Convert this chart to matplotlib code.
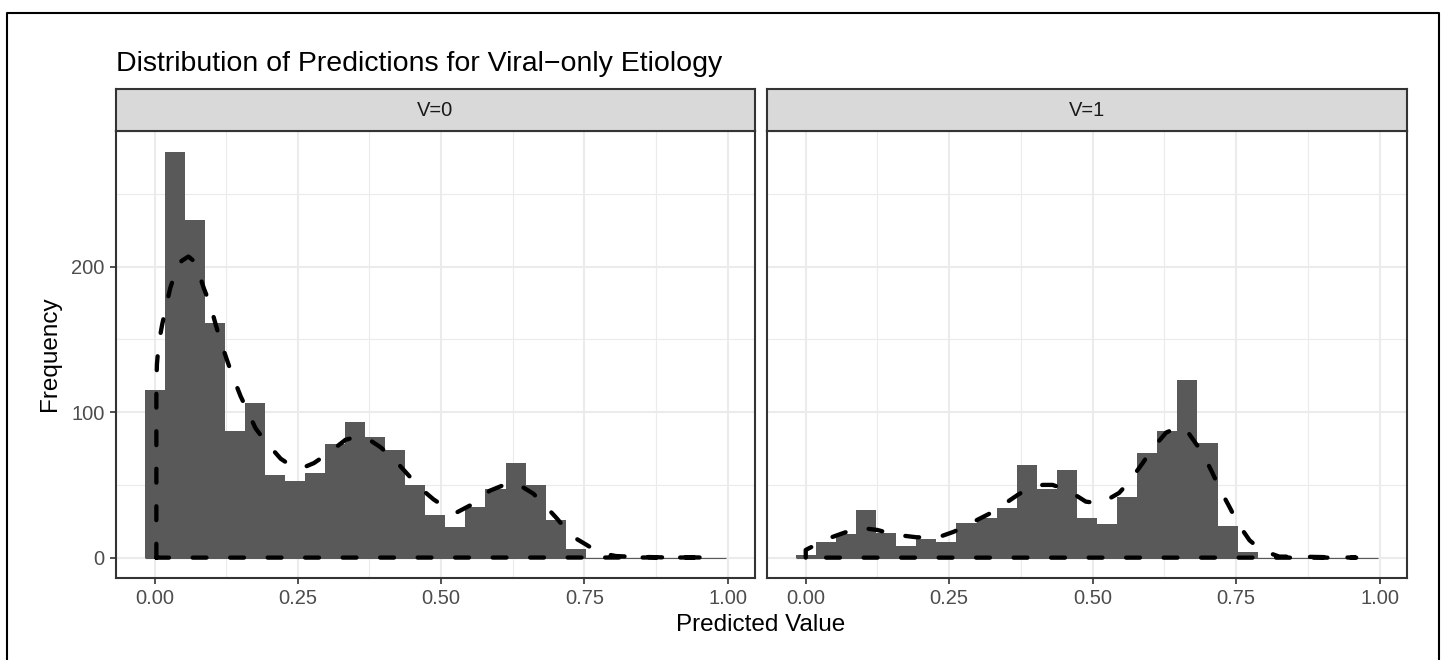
import numpy as np
import matplotlib
matplotlib.use("Agg")
import matplotlib.pyplot as plt
from matplotlib.lines import Line2D

plt.rcParams['font.family'] = ['Liberation Sans', 'DejaVu Sans']
plt.rcParams['lines.scale_dashes'] = False

# histogram: 29 bins of width 0.035, centred on 0.000, 0.035, ...
bin_width = 0.035
counts_v0 = [115, 279, 232, 161, 87, 106, 57, 53, 58, 78, 93, 83, 74, 50, 29,
             21, 35, 47, 65, 50, 26, 6, 0, 0, 0, 0, 0, 0, 0]
counts_v1 = [2, 11, 16, 33, 17, 8, 13, 11, 24, 27, 34, 64, 47, 60, 27,
             23, 42, 72, 87, 122, 79, 22, 4, 0, 0, 0, 0, 0, 0]

# density curves (scaled to counts)
dens_v0_x = [0.003, 0.004, 0.007, 0.013, 0.019, 0.027, 0.036, 0.047, 0.059, 0.068,
             0.075, 0.086, 0.097, 0.106, 0.115, 0.127, 0.137, 0.150, 0.162, 0.176,
             0.193, 0.220, 0.243, 0.260, 0.278, 0.304, 0.333, 0.352, 0.371, 0.394,
             0.417, 0.440, 0.463, 0.487, 0.510, 0.527, 0.556, 0.585, 0.610, 0.632,
             0.661, 0.681, 0.702, 0.719, 0.736, 0.753, 0.776, 0.805, 0.828, 0.886, 0.967]
dens_v0_y = [119, 133, 147, 160, 171, 185, 196, 204, 207, 204,
             198, 185, 174, 161, 149, 135, 124, 111, 101, 89,
             80, 68, 62, 62, 65, 72, 81, 83, 82, 76,
             68, 58, 48, 40, 34, 31, 37, 46, 50, 51,
             44, 36, 27, 19, 13, 9, 3.4, 1.1, 0.7, 0.2, 0.1]
dens_v1_x = [0.000, 0.026, 0.045, 0.064, 0.087, 0.105, 0.125, 0.151, 0.172, 0.193,
             0.217, 0.238, 0.258, 0.284, 0.319, 0.339, 0.371, 0.394, 0.413, 0.430,
             0.453, 0.470, 0.488, 0.514, 0.546, 0.563, 0.587, 0.604, 0.628, 0.651,
             0.668, 0.692, 0.709, 0.721, 0.738, 0.753, 0.773, 0.793, 0.825, 0.854, 0.959]
dens_v1_y = [5.3, 10.5, 14, 16.7, 19.9, 20, 19, 16.2, 15, 14,
             14, 15, 17.8, 23, 30, 35, 43.6, 48.6, 50, 50,
             46.8, 43, 38.5, 37.2, 44.5, 52, 65, 75, 86, 90,
             85, 71.5, 57.8, 47.5, 35, 23.5, 12, 5.3, 0.7, 0.7, 0]

panels = ["V=0", "V=1"]
x_ticks = [0.00, 0.25, 0.50, 0.75, 1.00]
x_ticklabels = ["0.00", "0.25", "0.50", "0.75", "1.00"]
y_ticks = [0, 100, 200]

W, H = 1444, 660
fig = plt.figure(figsize=(W / 100, H / 100), dpi=100)

def fx(px):
    return px / W

def fy(py):
    return 1 - py / H

panel_px = [(115.7, 755.0), (766.7, 1407.3)]
top_px, bot_px, strip_top_px = 130.7, 578.0, 89.3

data = [(counts_v0, dens_v0_x, dens_v0_y), (counts_v1, dens_v1_x, dens_v1_y)]

for i, (name, (l, r), (counts, dx, dy)) in enumerate(zip(panels, panel_px, data)):
    ax = fig.add_axes([fx(l), fy(bot_px), fx(r - l), fy(top_px) - fy(bot_px)])
    ax.set_xlim(-0.068, 1.048)
    ax.set_ylim(-14, 293.5)
    ax.set_xticks(x_ticks)
    ax.set_xticklabels(x_ticklabels)
    ax.set_xticks([0.125, 0.375, 0.625, 0.875], minor=True)
    ax.set_yticks(y_ticks)
    ax.set_yticks([50, 150, 250], minor=True)
    ax.grid(which='major', color='#EBEBEB', lw=1.5)
    ax.grid(which='minor', color='#EBEBEB', lw=0.8)
    ax.set_axisbelow(True)
    ax.tick_params(which='minor', length=0)
    ax.tick_params(which='major', length=4, width=1.2, color='#333333',
                   labelcolor='#4D4D4D', labelsize=14.5, pad=4)
    if i > 0:
        ax.tick_params(axis='y', which='both', left=False, labelleft=False)
    for s in ax.spines.values():
        s.set_color('#333333')
        s.set_linewidth(1.5)

    n = len(counts)
    centers = np.arange(n) * bin_width
    # zero-height bins show as a thin baseline
    ax.hlines(0, centers[0] - bin_width / 2, centers[-1] + bin_width / 2,
              color='#595959', lw=0.8, zorder=2)
    ax.bar(centers, counts, width=bin_width, color='#595959', lw=0, zorder=2)

    # density drawn as closed outline (curve + baseline back to start)
    px_ = [dx[0]] + dx + [dx[0]]
    py_ = [0] + dy + [0]
    ax.plot(px_, py_, color='black', lw=3.1, ls=(0, (10, 17)),
            dash_capstyle='round', zorder=3)

    # strip
    sax = fig.add_axes([fx(l), fy(top_px), fx(r - l), fy(strip_top_px) - fy(top_px)])
    sax.set_facecolor('#D9D9D9')
    sax.set_xticks([])
    sax.set_yticks([])
    for s in sax.spines.values():
        s.set_color('#333333')
        s.set_linewidth(1.5)
    sax.text(0.5, 0.5, name, ha='center', va='center', fontsize=14.5,
             color='#1A1A1A', transform=sax.transAxes)

fig.text(fx(116), fy(71), "Distribution of Predictions for Viral\u2212only Etiology",
         fontsize=20.5, ha='left', va='baseline', color='black')
fig.text(fx(761), fy(625), "Predicted Value", fontsize=17.5, ha='center', va='center')
fig.text(fx(50), fy(354), "Frequency", fontsize=17.5, ha='center', va='center',
         rotation=90)

# outer frame (left, top, right)
fig.add_artist(Line2D([fx(7), fx(7), fx(1439), fx(1439)],
                      [fy(H + 5), fy(13), fy(13), fy(H + 5)],
                      color='black', lw=1.5))

fig.savefig("out.png", dpi=100)
